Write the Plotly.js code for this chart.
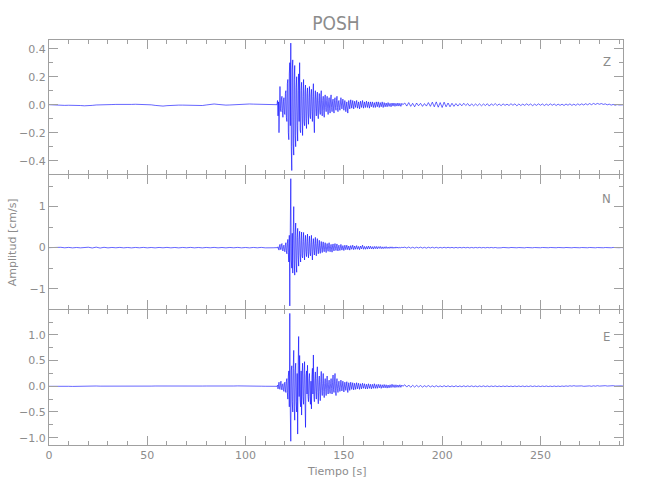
<!DOCTYPE html>
<html>
<head>
<meta charset="utf-8">
<script src="https://cdn.plot.ly/plotly-3.0.1.min.js"></script>
<style>html,body{margin:0;padding:0;background:#fff}</style>
</head>
<body>
<div id="chart" style="width:650px;height:500px"></div>
<script>
// ---- data (cm/s) ----
// each component is stored in four sampled segments:
// pre-event (0..116 s every 2 s), main burst (116..148 s every 0.25 s),
// decay (148..180 s every 0.5 s), coda (180..292 s every 1 s)
const segPre  = {start: 0,   step: 2};
const segFast = {start: 116, step: 0.25};
const segMid  = {start: 148, step: 0.5};
const segCoda = {start: 180, step: 1};

const zPre = [0,-0.002,-0.004,-0.006,-0.005,-0.004,-0.003,-0.004,-0.006,-0.008,
  -0.008,-0.005,-0.002,0,0.001,0,0.001,0.002,0.001,0,
  0.001,0.002,0.003,0.003,0.004,0.002,-0.001,-0.005,-0.009,-0.01,
  -0.007,-0.004,-0.002,-0.003,-0.003,-0.004,-0.003,-0.005,-0.008,-0.006,
  -0.002,0.003,0.005,0.002,-0.002,-0.003,-0.002,0,0.003,0.005,
  0.006,0.005,0.004,0.003,0.002,0.002,0.001,0.002,0];
const zFast = [0,0.03,-0.08,0.02,-0.20,0.05,0.13,-0.03,
  -0.05,0.04,0.06,-0.04,-0.09,0.02,0.05,-0.06,
  -0.07,0.08,0.10,-0.09,-0.12,0.15,0.18,-0.20,
  -0.25,0.22,0.30,-0.15,0.44,-0.30,-0.47,0.25,
  0.32,-0.28,-0.36,0.18,0.28,-0.22,-0.30,0.12,
  0.20,-0.15,-0.26,0.10,0.22,-0.12,0.30,-0.18,
  -0.20,0.10,0.16,-0.08,-0.22,0.06,0.18,-0.12,
  -0.15,0.09,0.14,-0.10,-0.17,0.08,0.12,-0.06,
  -0.14,0.05,0.13,-0.08,-0.10,0.07,0.11,-0.05,
  -0.12,0.06,0.15,-0.10,-0.20,0.04,0.10,-0.03,
  -0.08,0.05,0.09,-0.06,-0.10,0.03,0.08,-0.04,
  -0.07,0.06,0.10,-0.05,-0.08,0.03,0.06,-0.04,
  -0.09,0.04,0.07,-0.02,-0.05,0.03,0.06,-0.03,
  -0.07,0.02,0.05,-0.03,-0.06,0.04,0.07,-0.02,
  -0.05,0.02,0.04,-0.03,-0.06,0.03,0.05,-0.02,
  -0.04,0.03,0.06,-0.02,-0.05,0.02,0.03,-0.02,
  -0.04];
const zMid = [-0.04,0.05,-0.03,0.04,-0.04,0.03,
  -0.05,0.02,-0.06,0.03,-0.03,0.035,-0.025,0.03,-0.03,0.025,
  -0.02,0.03,-0.025,0.02,-0.03,0.025,-0.02,0.03,-0.025,0.02,
  -0.02,0.025,-0.02,0.02,-0.025,0.02,-0.015,0.02,-0.02,0.015,
  -0.02,0.02,-0.015,0.02,-0.02,0.015,-0.015,0.02,-0.02,0.015,
  -0.015,0.012,-0.015,0.015,-0.012,0.01,-0.015,0.012,-0.01,0.012,
  -0.012,0.01,-0.01,0.012,-0.01,0.01,-0.012,0.01,0];
const zCoda = [0,0.012,-0.01,0.015,-0.012,0.01,-0.015,0.012,-0.008,0.01,
  -0.012,0.008,-0.01,0.015,-0.012,0.018,-0.015,0.02,-0.018,0.015,
  -0.02,0.018,-0.015,0.012,-0.015,0.01,-0.012,0.008,-0.01,0.008,
  -0.008,0.01,-0.006,0.008,-0.01,0.006,-0.008,0.005,-0.007,0.006,
  -0.008,0.005,-0.006,0.007,-0.01,0.006,-0.005,0.008,-0.006,0.005,
  -0.007,0.006,-0.005,0.004,-0.006,0.007,-0.004,0.006,-0.008,0.005,
  -0.006,0.004,-0.005,0.006,-0.004,0.005,-0.007,0.004,-0.005,0.006,
  -0.004,0.005,-0.006,0.004,-0.005,0.006,-0.004,0.005,-0.006,0.004,
  -0.005,0.004,-0.006,0.005,-0.004,0.006,-0.005,0.004,-0.005,0.006,
  -0.003,0.006,-0.002,0.007,-0.001,0.008,0,0.009,0.002,0.009,
  0.003,0.008,0.002,0.006,-0.001,0.004,-0.003,0.002,-0.004,0.001,
  -0.002,0.001,-0.001];

const nPre = [0,0.005,-0.005,0.008,-0.004,0.006,-0.006,0.004,-0.005,0.006,
  0.01,-0.008,0.012,-0.01,0.008,-0.006,0.005,-0.004,0.006,-0.005,
  0.004,-0.006,0.005,-0.004,0.006,-0.005,0.004,-0.006,0.005,-0.004,
  0.006,-0.005,0.004,-0.006,0.005,-0.004,0.006,-0.005,0.004,-0.006,
  0.005,-0.004,0.006,-0.005,0.004,-0.006,0.005,-0.004,0.006,-0.005,
  0.004,-0.006,0.005,-0.004,0.006,-0.005,0.004,-0.003,0];
const nFast = [0,-0.01,0.02,-0.03,-0.06,0.04,0.08,-0.04,
  -0.05,0.07,0.1,-0.05,-0.08,0.03,0.06,-0.07,
  -0.1,0.05,0.12,-0.08,-0.15,0.1,0.2,-0.12,
  -0.35,0.3,-1.42,0.5,1.68,-0.3,-0.5,0.35,
  -0.62,0.4,1.0,-0.3,-0.67,0.3,0.6,-0.35,
  -0.6,0.25,0.47,-0.2,-0.45,0.2,0.4,-0.15,
  -0.35,0.18,0.38,-0.2,-0.25,0.15,0.37,-0.12,
  -0.3,0.12,0.3,-0.1,-0.22,0.15,0.33,-0.1,
  -0.25,0.1,0.28,-0.12,-0.2,0.12,0.3,-0.1,
  -0.3,0.08,0.22,-0.06,-0.18,0.1,0.25,-0.08,
  -0.2,0.1,0.22,-0.05,-0.15,0.06,0.18,-0.06,
  -0.14,0.05,0.15,-0.04,-0.12,0.06,0.14,-0.05,
  -0.1,0.04,0.12,-0.05,-0.12,0.03,0.1,-0.04,
  -0.09,0.05,0.12,-0.03,-0.1,0.03,0.08,-0.04,
  -0.11,0.04,0.09,-0.03,-0.08,0.05,0.1,-0.02,
  -0.07,0.03,0.09,-0.03,-0.08,0.02,0.06,-0.03,
  -0.07];
const nMid = [-0.07,0.08,-0.06,0.05,-0.07,0.06,
  -0.05,0.06,-0.05,0.04,-0.06,0.05,-0.04,0.06,-0.05,0.04,
  -0.04,0.05,-0.04,0.03,-0.05,0.04,-0.03,0.06,-0.04,0.03,
  -0.04,0.03,-0.035,0.04,-0.03,0.035,-0.03,0.025,-0.035,0.03,
  -0.025,0.03,-0.03,0.025,-0.02,0.03,-0.025,0.02,-0.025,0.02,
  -0.02,0.025,-0.02,0.015,-0.02,0.02,-0.015,0.02,-0.018,0.015,
  -0.015,0.018,-0.012,0.015,-0.015,0.012,-0.01,0.012,0];
const nCoda = [0,0.012,-0.01,0.015,-0.012,0.01,-0.012,0.01,-0.008,0.012,
  -0.01,0.008,-0.012,0.01,-0.008,0.01,-0.009,0.008,-0.01,0.007,
  -0.008,0.009,-0.007,0.008,-0.006,0.007,-0.008,0.006,-0.007,0.006,
  -0.006,0.007,-0.005,0.006,-0.007,0.005,-0.006,0.005,-0.005,0.006,
  -0.005,0.004,-0.006,0.005,-0.004,0.005,-0.005,0.004,-0.006,0.004,
  -0.004,0.005,-0.004,0.004,-0.005,0.004,-0.003,0.005,-0.004,0.003,
  -0.004,0.003,-0.005,0.004,-0.003,0.004,-0.004,0.003,-0.004,0.005,
  -0.003,0.004,-0.004,0.003,-0.003,0.004,-0.004,0.003,-0.003,0.004,
  -0.004,0.003,-0.003,0.004,-0.003,0.003,-0.004,0.003,-0.003,0.004,
  -0.003,0.003,-0.004,0.003,-0.003,0.004,-0.003,0.003,-0.004,0.003,
  -0.003,0.004,-0.003,0.003,-0.004,0.003,-0.003,0.004,-0.003,0.003,
  -0.002,0.002,0];

const ePre = [0,0.002,0.003,0.002,0.001,0,-0.002,0.001,0.004,0.008,
  0.012,0.01,0.006,0.003,0.002,0.001,0,-0.001,0.001,0.002,
  0.003,0.002,0,-0.002,-0.001,0.002,0.004,0.006,0.005,0.003,
  0.001,0,-0.002,-0.003,-0.002,0,0.002,0.003,0.004,0.005,
  0.006,0.004,0.002,0.001,0,0.002,0.004,0.006,0.008,0.009,
  0.008,0.006,0.004,0.003,0.002,0.001,0,0.001,0];
const eFast = [0,0.02,-0.05,0.03,0.08,-0.04,-0.06,0.05,
  0.1,-0.03,-0.07,0.04,0.05,-0.06,-0.1,0.05,
  0.08,-0.07,-0.12,0.1,0.15,-0.12,-0.25,0.2,
  0.3,-0.4,1.42,-0.5,-1.07,0.3,0.4,-0.3,
  -0.5,0.35,0.7,-0.4,-0.66,0.3,0.45,-0.3,
  -0.5,0.25,-0.93,0.4,0.97,-0.2,0.6,-0.25,
  -0.4,0.3,-0.56,0.2,0.45,-0.2,-0.35,0.25,
  0.48,-0.3,-0.8,0.2,0.3,-0.15,0.41,-0.2,
  -0.3,0.15,0.25,-0.2,-0.35,0.1,-0.44,0.2,
  0.35,-0.15,0.61,-0.2,-0.3,0.12,0.28,-0.1,
  -0.25,0.15,0.38,-0.12,-0.34,0.08,0.2,-0.1,
  -0.28,0.1,0.29,-0.08,-0.18,0.06,0.25,-0.1,
  -0.22,0.05,0.15,-0.06,-0.18,0.08,0.2,-0.05,
  -0.15,0.04,0.12,-0.06,-0.14,0.05,0.15,-0.04,
  -0.15,0.08,0.22,-0.06,-0.12,0.1,0.25,-0.08,
  -0.18,0.05,0.15,-0.04,-0.12,0.03,0.1,-0.03,
  -0.1];
const eMid = [-0.1,0.12,-0.09,0.1,-0.11,0.08,
  -0.08,0.09,-0.12,0.07,-0.08,0.08,-0.06,0.07,-0.07,0.06,
  -0.06,0.07,-0.05,0.06,-0.06,0.05,-0.05,0.06,-0.04,0.05,
  -0.05,0.04,-0.05,0.05,-0.04,0.04,-0.05,0.04,-0.04,0.05,
  -0.04,0.035,-0.04,0.04,-0.03,0.035,-0.04,0.03,-0.03,0.035,
  -0.03,0.03,-0.035,0.025,-0.03,0.03,-0.025,0.04,-0.02,0.03,
  -0.025,0.03,-0.02,0.025,-0.02,0.03,-0.02,0.025,0];
const eCoda = [0,0.03,-0.015,0.025,-0.02,0.02,-0.015,0.018,-0.012,0.015,
  -0.015,0.012,-0.01,0.015,-0.012,0.01,-0.012,0.012,-0.01,0.008,
  -0.01,0.012,-0.008,0.01,-0.01,0.008,-0.009,0.01,-0.008,0.007,
  -0.008,0.009,-0.007,0.008,-0.006,0.008,-0.007,0.006,-0.008,0.007,
  -0.006,0.008,-0.006,0.007,-0.007,0.006,-0.005,0.007,-0.006,0.005,
  -0.006,0.006,-0.005,0.007,-0.006,0.005,-0.006,0.006,-0.005,0.006,
  -0.005,0.006,-0.006,0.005,-0.005,0.007,-0.005,0.006,-0.004,0.005,
  -0.005,0.005,-0.004,0.006,-0.005,0.004,-0.005,0.006,-0.004,0.005,
  -0.004,0.006,-0.002,0.008,0,0.01,0.002,0.012,0.004,0.01,
  0.002,0.008,0,0.006,-0.002,0.008,0,0.01,0.002,0.012,
  0.004,0.01,0.003,0.012,0.005,0.01,0.004,0.012,0.005,0.01,
  0.004,0.008,0.005];

const components = ['Z','N','E'];
const xTickVals = [0,50,100,150,200,250];
const xTickText = ['0','50','100','150','200','250'];
const zTickVals = [-0.4,-0.2,0,0.2,0.4];
const zTickText = ['\u22120.4','\u22120.2','0.0','0.2','0.4'];
const nTickVals = [-1,0,1];
const nTickText = ['\u22121','0','1'];
const eTickVals = [-1,-0.5,0,0.5,1];
const eTickText = ['\u22121.0','\u22120.5','0.0','0.5','1.0'];
const titleText = 'POSH';
const xTitle = 'Tiempo [s]';
const yTitle = 'Amplitud [cm/s]';

// ---- styling ----
const TXT = '#8c8c8c';
const AX = '#a0a0a0';
const FONT = 'DejaVu Sans, Liberation Sans, sans-serif';
const NARROW = 'Liberation Sans Narrow, DejaVu Sans Condensed, DejaVu Sans, sans-serif';

function seg(vals, s, xa, ya) {
  return {type:'scatter', mode:'lines', y: vals, x0: s.start, dx: s.step,
    xaxis: xa, yaxis: ya, line:{color:'#0000ff', width:0.6}, hoverinfo:'skip'};
}
const data = [
  seg(zPre, segPre, 'x', 'y'), seg(zFast, segFast, 'x', 'y'), seg(zMid, segMid, 'x', 'y'), seg(zCoda, segCoda, 'x', 'y'),
  seg(nPre, segPre, 'x2', 'y2'), seg(nFast, segFast, 'x2', 'y2'), seg(nMid, segMid, 'x2', 'y2'), seg(nCoda, segCoda, 'x2', 'y2'),
  seg(ePre, segPre, 'x3', 'y3'), seg(eFast, segFast, 'x3', 'y3'), seg(eMid, segMid, 'x3', 'y3'), seg(eCoda, segCoda, 'x3', 'y3')
];

function xax(anchor, labels) {
  return {anchor: anchor, domain:[0,1], range:[0,292], showline:true, linecolor:AX, linewidth:1,
    mirror:'ticks', ticks:'inside', ticklen:9, tickwidth:1, tickcolor:AX,
    tickvals:xTickVals, ticktext:xTickText, showticklabels:labels,
    minor:{dtick:10, tick0:0, ticks:'inside', ticklen:4, tickwidth:1, tickcolor:AX, showgrid:false},
    showgrid:false, zeroline:false, tickfont:{family:FONT, size:11, color:TXT}, fixedrange:true};
}
function yax(anchor, dom, rng, tv, tt, minorStep) {
  return {anchor: anchor, domain: dom, range: rng, showline:true, linecolor:AX, linewidth:1,
    mirror:'ticks', ticks:'inside', ticklen:9, tickwidth:1, tickcolor:AX,
    tickvals: tv, ticktext: tt,
    minor:{dtick:minorStep, tick0:0, ticks:'inside', ticklen:4, tickwidth:1, tickcolor:AX, showgrid:false},
    showgrid:false, zeroline:false, tickfont:{family:FONT, size:11, color:TXT}, fixedrange:true};
}

// panel domains: adjacent panels overlap by one pixel so the shared border is a single line
const PH = 405;
const B1 = 1/3, B2 = 2/3, ONE = 1/PH;
const layout = {
  width:650, height:500,
  margin:{l:49, r:27, t:40, b:55, pad:0},
  paper_bgcolor:'#ffffff', plot_bgcolor:'#ffffff',
  showlegend:false,
  font:{family:FONT, color:TXT, size:11},
  title:{text:titleText, x:0.5, xref:'paper', xanchor:'center', y:1-23/500, yref:'container', yanchor:'middle',
    font:{family:NARROW, size:19, color:TXT}},
  xaxis: xax('y', false),
  xaxis2: xax('y2', false),
  xaxis3: xax('y3', true),
  yaxis: yax('x', [B2+ONE,1], [-0.495,0.462], zTickVals, zTickText, 0.1),
  yaxis2: yax('x2', [B1+ONE,B2], [-1.495,1.77], nTickVals, nTickText, 0.5),
  yaxis3: yax('x3', [0,B1], [-1.143,1.486], eTickVals, eTickText, 0.25),
  annotations: [
    {text: components[0], xref:'paper', yref:'paper', x:0.9716, y:0.948, showarrow:false, xanchor:'center', yanchor:'middle', font:{family:NARROW, size:13, color:TXT}},
    {text: components[1], xref:'paper', yref:'paper', x:0.9716, y:0.6084, showarrow:false, xanchor:'center', yanchor:'middle', font:{family:NARROW, size:13, color:TXT}},
    {text: components[2], xref:'paper', yref:'paper', x:0.9716, y:0.269, showarrow:false, xanchor:'center', yanchor:'middle', font:{family:NARROW, size:13, color:TXT}},
    {text: xTitle, xref:'paper', yref:'paper', x:0.5, y:-0.0659, showarrow:false, xanchor:'center', yanchor:'middle', font:{family:FONT, size:11, color:TXT}},
    {text: yTitle, xref:'paper', yref:'paper', x:-0.0632, y:0.5, textangle:-90, showarrow:false, xanchor:'center', yanchor:'middle', font:{family:FONT, size:11, color:TXT}}
  ]
};

Plotly.newPlot('chart', data, layout, {displayModeBar:false, staticPlot:true});
</script>
</body>
</html>
